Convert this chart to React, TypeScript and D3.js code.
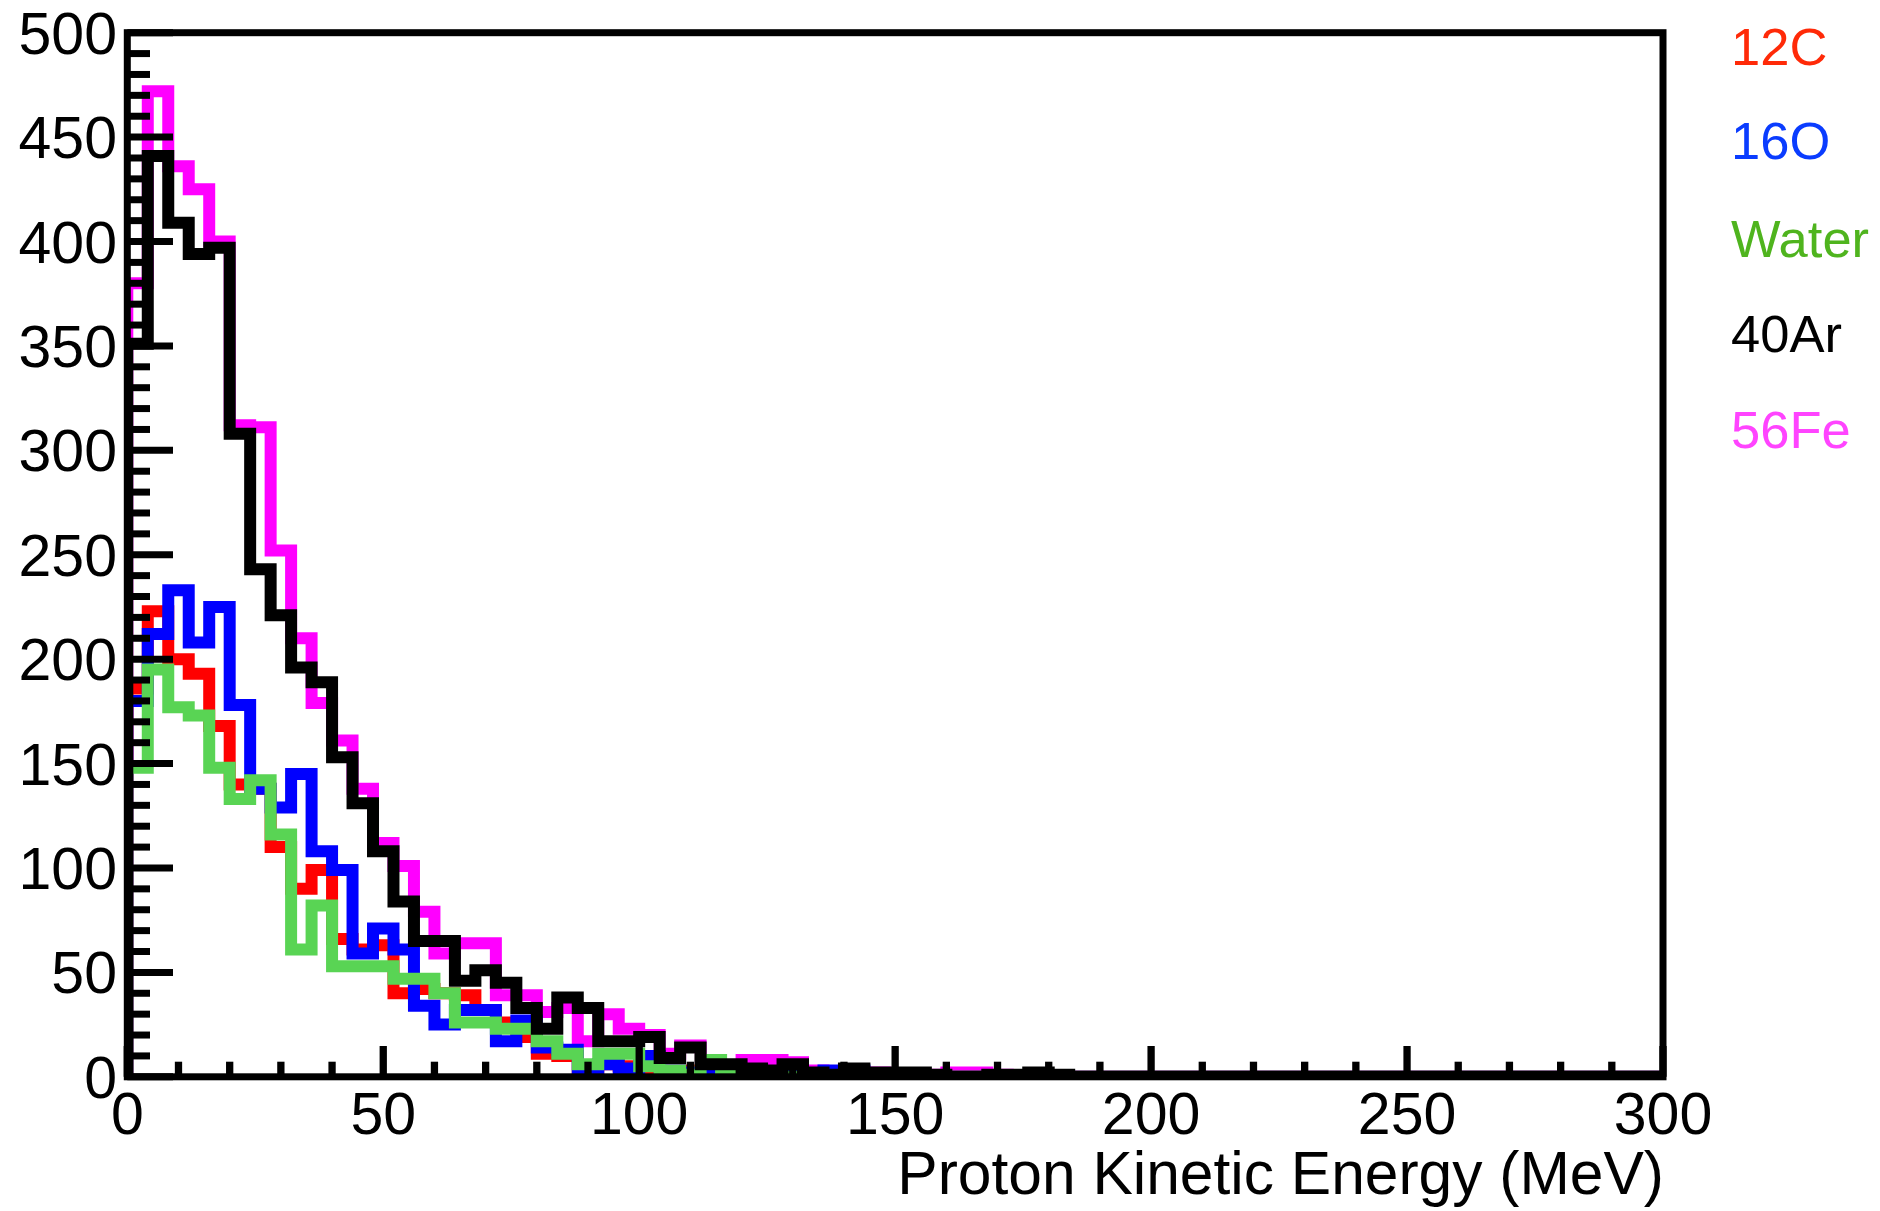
import React, { useEffect } from "react";
import * as d3 from "d3";

// ---- data (4 MeV bins, 0–300 MeV, 75 bins) ----
const BIN_WIDTH = 4;
const X_MAX = 300;
const Y_MAX = 500;

const carbon12 = [
  186, 223, 200, 193, 168, 140, 138, 110, 90, 99,
  66, 61, 63, 40, 42, 40, 39, 32, 26, 19,
  11, 10, 4, 6, 5, 2, 3, 3, 1, 1,
  1, 1, 0, 1, 0, 0, 0, 0, 0, 0,
  0, 0, 0, 0, 0, 0, 0, 0, 0, 0,
  0, 0, 0, 0, 0, 0, 0, 0, 0, 0,
  0, 0, 0, 0, 0, 0, 0, 0, 0, 0,
  0, 0, 0, 0, 0,
];

const oxygen16 = [
  180, 212, 233, 208, 225, 178, 138, 129, 145, 108,
  99, 59, 71, 61, 34, 25, 32, 32, 17, 27,
  14, 13, 4, 6, 4, 10, 3, 2, 2, 1,
  2, 1, 1, 1, 3, 3, 0, 1, 0, 0,
  0, 0, 0, 0, 0, 0, 0, 0, 0, 0,
  0, 0, 0, 0, 0, 0, 0, 0, 0, 0,
  0, 0, 0, 0, 0, 0, 0, 0, 0, 0,
  0, 0, 0, 0, 0,
];

const water = [
  148, 195, 177, 173, 148, 133, 142, 116, 61, 82,
  53, 53, 53, 47, 47, 40, 26, 26, 23, 23,
  17, 11, 6, 11, 11, 5, 3, 1, 8, 1,
  1, 0, 0, 0, 0, 0, 0, 0, 0, 0,
  0, 0, 0, 0, 0, 0, 0, 0, 0, 0,
  0, 0, 0, 0, 0, 0, 0, 0, 0, 0,
  0, 0, 0, 0, 0, 0, 0, 0, 0, 0,
  0, 0, 0, 0, 0,
];

const argon40 = [
  351, 441, 409, 394, 397, 308, 243, 221, 196, 189,
  153, 131, 108, 84, 65, 65, 46, 51, 45, 33,
  23, 38, 33, 17, 17, 19, 9, 14, 6, 6,
  4, 3, 6, 2, 1, 4, 2, 2, 2, 1,
  0, 0, 1, 1, 2, 1, 0, 0, 0, 0,
  0, 0, 0, 0, 0, 0, 0, 0, 0, 0,
  0, 0, 0, 0, 0, 0, 0, 0, 0, 0,
  0, 0, 0, 0, 0,
];

const iron56 = [
  380, 472, 436, 425, 400, 312, 311, 252, 210, 179,
  161, 138, 112, 101, 79, 59, 64, 64, 39, 39,
  31, 33, 17, 30, 23, 20, 11, 15, 6, 5,
  8, 8, 7, 3, 2, 2, 2, 1, 1, 1,
  2, 2, 1, 0, 0, 0, 0, 0, 0, 0,
  0, 0, 0, 0, 0, 0, 0, 0, 0, 0,
  0, 0, 0, 0, 0, 0, 0, 0, 0, 0,
  0, 0, 0, 0, 0,
];

const legendLabels = ["12C", "16O", "Water", "40Ar", "56Fe"];
const legendColors = ["#ff2a08", "#0a3cff", "#4fb41e", "#000000", "#ff44ff"];
const xTickLabels = [0, 50, 100, 150, 200, 250, 300];
const yTickLabels = [0, 50, 100, 150, 200, 250, 300, 350, 400, 450, 500];
const xTitle = "Proton Kinetic Energy (MeV)";

// drawing order (first = bottom)
const histograms = [
  { name: "56Fe", values: iron56, color: "#ff00ff" },
  { name: "12C", values: carbon12, color: "#ff0000" },
  { name: "16O", values: oxygen16, color: "#0000ff" },
  { name: "Water", values: water, color: "#59d454" },
  { name: "40Ar", values: argon40, color: "#000000" },
];

const FONT = "'Liberation Sans', Arial, Helvetica, sans-serif";

export default function App() {
  useEffect(() => {
    document.body.style.margin = "0";
  }, []);

  const left = 127.3;
  const right = 1663;
  const bottom = 1076.8;
  const top = 32.7;

  const x = d3.scaleLinear().domain([0, X_MAX]).range([left, right]);
  const y = d3.scaleLinear().domain([0, Y_MAX]).range([bottom, top]);

  const line = d3
    .line<[number, number]>()
    .x((d) => x(d[0]))
    .y((d) => y(d[1]))
    .curve(d3.curveStepAfter);

  const pathFor = (vals: number[]) => {
    const pts: [number, number][] = [[0, 0]];
    vals.forEach((v, i) => pts.push([i * BIN_WIDTH, v]));
    pts.push([vals.length * BIN_WIDTH, 0]);
    return line(pts) || "";
  };

  const xMinor = x.ticks(30);
  const yMinor = y.ticks(50);

  return (
    <svg
      width={1880}
      height={1211}
      style={{ position: "absolute", left: 0, top: 0, display: "block", background: "#fff" }}
    >
      <defs>
        <clipPath id="frameClip">
          <rect x={left} y={0} width={right - left} height={bottom} />
        </clipPath>
      </defs>
      <rect x={0} y={0} width={1880} height={1211} fill="#fff" />
      <g clipPath="url(#frameClip)">
        {histograms.map((h) => (
          <path
            key={h.name}
            d={pathFor(h.values)}
            fill="none"
            stroke={h.color}
            strokeWidth={12}
            strokeLinejoin="miter"
            strokeLinecap="butt"
          />
        ))}
      </g>

      {/* y ticks */}
      {yMinor.map((t) => (
        <line
          key={"yt" + t}
          x1={left}
          x2={left + (t % 50 === 0 ? 45.7 : 22.7)}
          y1={y(t)}
          y2={y(t)}
          stroke="#000"
          strokeWidth={7}
        />
      ))}
      {/* x ticks */}
      {xMinor.map((t) => (
        <line
          key={"xt" + t}
          x1={x(t)}
          x2={x(t)}
          y1={bottom}
          y2={bottom - (t % 50 === 0 ? 30.8 : 15.1)}
          stroke="#000"
          strokeWidth={7.3}
        />
      ))}

      {/* frame */}
      <rect
        x={left}
        y={top}
        width={right - left}
        height={bottom - top}
        fill="none"
        stroke="#000"
        strokeWidth={7}
        strokeLinejoin="miter"
      />

      {/* y labels */}
      {yTickLabels.map((t) => (
        <text
          key={"yl" + t}
          x={117}
          y={y(t) + 21}
          textAnchor="end"
          fontFamily={FONT}
          fontSize={59}
          fill="#000"
        >
          {t}
        </text>
      ))}
      {/* x labels */}
      {xTickLabels.map((t) => (
        <text
          key={"xl" + t}
          x={x(t)}
          y={1134}
          textAnchor="middle"
          fontFamily={FONT}
          fontSize={59}
          fill="#000"
        >
          {t}
        </text>
      ))}
      <text
        x={1664}
        y={1194}
        textAnchor="end"
        fontFamily={FONT}
        fontSize={60.5}
        fill="#000"
      >
        {xTitle}
      </text>

      {/* legend */}
      {legendLabels.map((l, i) => (
        <text
          key={l}
          x={1731}
          y={[64.5, 159, 256.7, 351.7, 448][i]}
          fontFamily={FONT}
          fontSize={52.5}
          fill={legendColors[i]}
        >
          {l}
        </text>
      ))}
    </svg>
  );
}
